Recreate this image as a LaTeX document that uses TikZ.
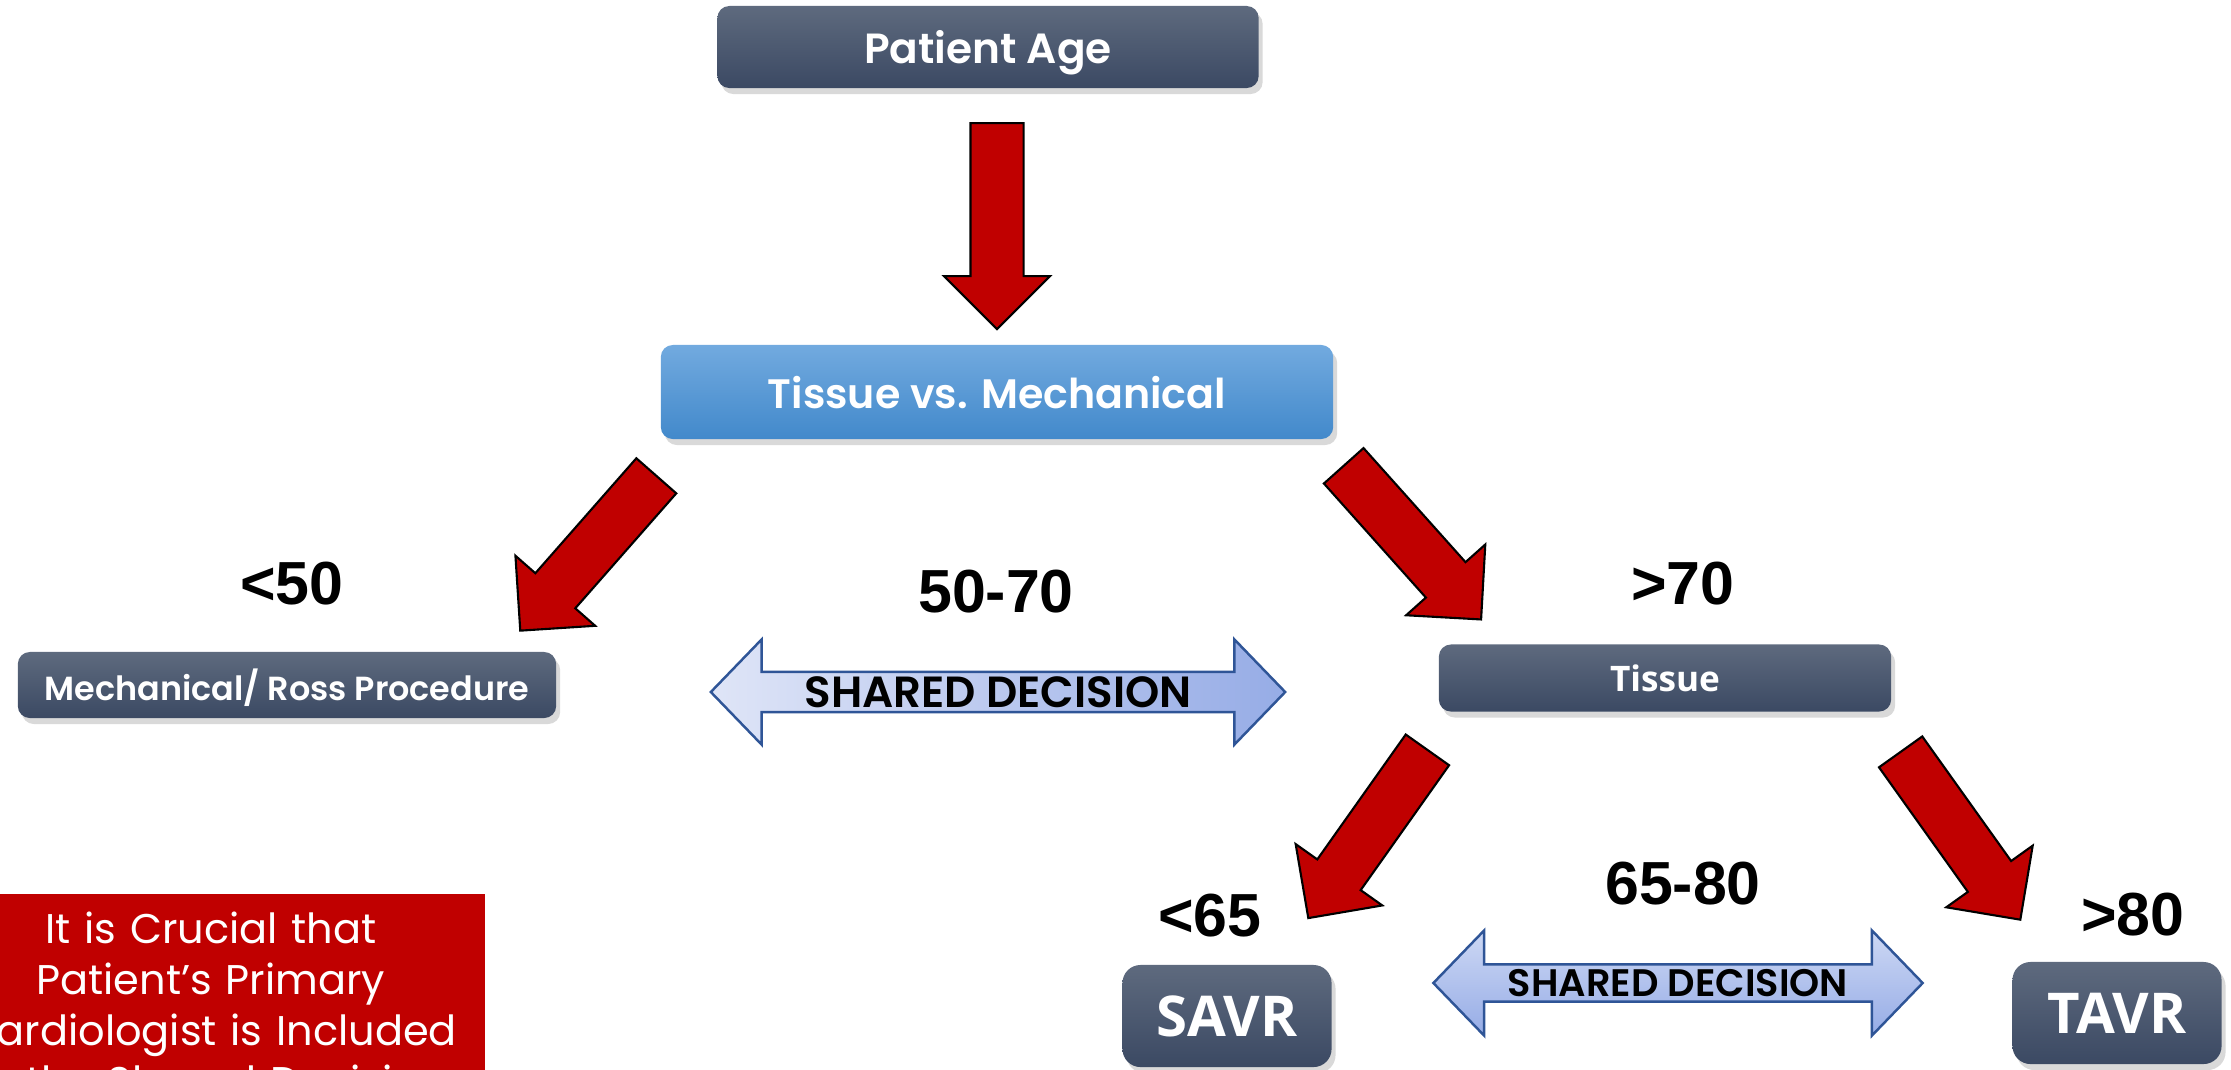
\documentclass[tikz,border=0pt]{standalone}
\usepackage{fontspec}
\setmainfont{Poppins}
\newfontfamily\popsemi{Poppins SemiBold}
\newfontfamily\numfont{Liberation Sans}
\newfontfamily\opensans{Open Sans}
\usetikzlibrary{positioning,shapes.arrows,shadows}

\definecolor{slatetop}{RGB}{94,106,126}
\definecolor{slatebot}{RGB}{59,73,99}
\definecolor{skytop}{RGB}{114,170,223}
\definecolor{skybot}{RGB}{66,137,203}
\definecolor{alarmred}{RGB}{192,0,0}
\definecolor{lilaclight}{RGB}{223,229,247}
\definecolor{lilacdark}{RGB}{150,172,230}
\definecolor{lilacmid}{RGB}{205,216,244}
\definecolor{navyline}{RGB}{47,85,151}

\tikzset{
  slatebox/.style={rounded corners=0.12cm, top color=slatetop, bottom color=slatebot,
    text=white, inner sep=0, text depth=0pt,
    drop shadow={opacity=0.3, shadow xshift=0.04cm, shadow yshift=-0.06cm}},
  bluebox/.style={slatebox, top color=skytop, bottom color=skybot},
  redarrow/.style={single arrow, draw=black, line width=0.6pt, fill=alarmred,
    minimum height=2.06cm, inner xsep=0, inner ysep=0.255cm,
    single arrow head extend=0.265cm, single arrow tip angle=90},
  sharedarrow/.style={double arrow, draw=navyline, line width=0.7pt, inner sep=0,
    minimum width=1.05cm, double arrow head extend=0.27cm, double arrow tip angle=92},
  agelabel/.style={font=\numfont\bfseries\fontsize{17.3}{20}\selectfont},
  notebox/.style={fill=alarmred, text=white, text width=5.48cm, align=center,
    inner xsep=0, inner ysep=0.18cm, font=\fontsize{11.8}{14.5}\selectfont}
}

\begin{document}
\begin{tikzpicture}[x=0.01cm, y=-0.01cm]
    \useasboundingbox (0,0) rectangle (2231,1069);

    % Decision boxes
    \node[slatebox, minimum width=5.41cm, minimum height=0.82cm,
      font=\popsemi\fontsize{12}{14}\selectfont] (age) at (988,47) {Patient Age};
    \node[bluebox, minimum width=6.72cm, minimum height=0.94cm,
      font=\popsemi\fontsize{11.7}{14}\selectfont] (choice) at (997,392) {Tissue vs. Mechanical};
    \node[slatebox, minimum width=5.38cm, minimum height=0.66cm,
      font=\popsemi\fontsize{9.5}{12}\selectfont] (mech) at (287,685) {Mechanical/ Ross Procedure};
    \node[slatebox, minimum width=4.52cm, minimum height=0.67cm,
      font=\opensans\bfseries\fontsize{10}{12}\selectfont] (tissue) at (1665,678) {Tissue};
    \node[slatebox, rounded corners=0.18cm, minimum width=2.09cm, minimum height=1.02cm,
      font=\opensans\bfseries\fontsize{16}{18}\selectfont] (savr) at (1227,1016) {SAVR};
    \node[slatebox, rounded corners=0.18cm, minimum width=2.09cm, minimum height=1.02cm,
      font=\opensans\bfseries\fontsize{16}{18}\selectfont] (tavr) at (2117,1013) {TAVR};

    % Red arrows
    \node[redarrow, rotate=-90, anchor=tail] (toChoice) at (997,122) {};
    \node[redarrow, rotate=-131.3, anchor=tail] (toMech) at (657,475) {};
    \node[redarrow, rotate=-48.2, anchor=tail] (toTissue) at (1343,465) {};
    \node[redarrow, rotate=-125.3, anchor=tail] (toSavr) at (1428,749) {};
    \node[redarrow, rotate=-54.5, anchor=tail] (toTavr) at (1900,751) {};

    % Age ranges
    \node[agelabel] (under50) at (292,584) {<50};
    \node[agelabel] (mid5070) at (996,592) {50-70};
    \node[agelabel] (over70) at (1683,584) {>70};
    \node[agelabel] (under65) at (1210,916) {<65};
    \node[agelabel] (mid6580) at (1683,884) {65-80};
    \node[agelabel] (over80) at (2133,915) {>80};

    % Shared decision
    \node[sharedarrow, minimum height=5.74cm, left color=lilaclight, right color=lilacdark,
      font=\popsemi\fontsize{12.4}{14}\selectfont] (shared1) at (998,692) {SHARED DECISION};
    \node[sharedarrow, minimum height=4.89cm, top color=lilacmid, bottom color=lilacdark,
      font=\popsemi\fontsize{10.9}{12}\selectfont] (shared2) at (1678,983) {SHARED DECISION};

    % Note
    \node[notebox, anchor=north west] (note) at (-64,893)
      {It is Crucial that\\Patient’s Primary\\Cardiologist is Included\\in the Shared Decision};
\end{tikzpicture}
\end{document}
